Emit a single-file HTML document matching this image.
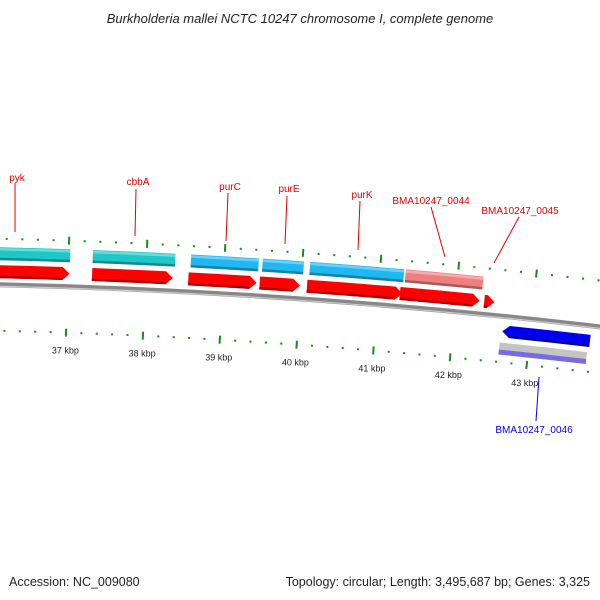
<!DOCTYPE html>
<html><head><meta charset="utf-8"><style>
body{margin:0;background:#fff}
svg{display:block}
text{font-family:"Liberation Sans","DejaVu Sans",sans-serif}
</style></head><body>
<svg id="map" width="600" height="600" viewBox="0 0 600 600">
<text x="300" y="23" text-anchor="middle" font-size="13" font-style="italic" fill="#222">Burkholderia mallei NCTC 10247 chromosome I, complete genome</text>
<text x="9" y="586" font-size="12.5" fill="#222">Accession: NC_009080</text>
<text x="590" y="586" text-anchor="end" font-size="12.5" fill="#222">Topology: circular; Length: 3,495,687 bp; Genes: 3,325</text>
<g id="g"></g>
</svg>
<script>
// data (kbp)
const fwdGenes = [[35.9,37.02],[37.31,38.35],[38.55,39.43],[39.47,39.99],[40.08,41.31],[41.28,42.31],[42.37,42.50]];
const fwdBoxes = [[35.9,37.02],[37.31,38.37],[38.57,39.44],[39.49,40.02],[40.10,41.31],[41.33,42.33]];
const boxColors = ['#1ec8c8','#1ec8c8','#20b8f0','#20b8f0','#20b8f0','#f08080'];
const revGenes = [[42.64,43.78]];
const tickKbp = [36,37,38,39,40,41,42,43,44];
const tickLabels = ['','37 kbp','38 kbp','39 kbp','40 kbp','41 kbp','42 kbp','43 kbp','44 kbp'];

const NS='http://www.w3.org/2000/svg';
const G=document.getElementById('g');
const CX=-150, CY=6713, R0=6384+46, T37=0.03384, K=0.01206;
function th(p){return T37+(p-37)*K;}
function pt(p,r){const t=th(p);return [CX+r*Math.sin(t),CY-r*Math.cos(t)];}
function mk(tag,attrs){const e=document.createElementNS(NS,tag);for(const k in attrs)e.setAttribute(k,attrs[k]);G.appendChild(e);return e;}
function arcPath(a,b,r){const p=pt(a,r),q=pt(b,r);return `M${p[0]},${p[1]} A${r},${r} 0 0 1 ${q[0]},${q[1]}`;}
function band(a,b,r,h,dir){
  const head=0.09;let d;
  const ro=r+h/2,ri=r-h/2;
  if(dir===1){const e=b-head;const p1=pt(a,ro),p2=pt(e,ro),tp=pt(b,r),p3=pt(e,ri),p4=pt(a,ri);
    d=`M${p1[0]},${p1[1]} A${ro},${ro} 0 0 1 ${p2[0]},${p2[1]} L${tp[0]},${tp[1]} L${p3[0]},${p3[1]} A${ri},${ri} 0 0 0 ${p4[0]},${p4[1]} Z`;}
  else if(dir===-1){const s=a+head;const tp=pt(a,r),p1=pt(s,ro),p2=pt(b,ro),p3=pt(b,ri),p4=pt(s,ri);
    d=`M${tp[0]},${tp[1]} L${p1[0]},${p1[1]} A${ro},${ro} 0 0 1 ${p2[0]},${p2[1]} L${p3[0]},${p3[1]} A${ri},${ri} 0 0 0 ${p4[0]},${p4[1]} Z`;}
  else{const p1=pt(a,ro),p2=pt(b,ro),p3=pt(b,ri),p4=pt(a,ri);
    d=`M${p1[0]},${p1[1]} A${ro},${ro} 0 0 1 ${p2[0]},${p2[1]} L${p3[0]},${p3[1]} A${ri},${ri} 0 0 0 ${p4[0]},${p4[1]} Z`;}
  return d;
}
// backbone
let e=mk('path',{d:arcPath(35.5,45,R0),fill:'none',stroke:'#888',"stroke-width":5});


e=mk('path',{d:arcPath(35.5,45,R0-1.5),fill:'none',stroke:'#ccc',"stroke-width":1.2});


// ticks
for(let i=0;i<tickKbp.length-1;i++){
  for(let j=0;j<5;j++){
    const p=tickKbp[i]+j*0.2, major=j===0;
    [R0+46,R0-46].forEach((r,ri)=>{
      const L=major?4:1;const a=pt(p,r-L),b=pt(p,r+L);
      const t=mk('line',{x1:a[0],y1:a[1],x2:b[0],y2:b[1],stroke:'#1a8a1a',"stroke-width":2});
      
      
    });
  }
  const lp=pt(tickKbp[i],R0-64);
  const tx=mk('text',{x:lp[0],y:lp[1]+3,"text-anchor":"middle","font-size":"9",fill:'#222'});
  tx.textContent=tickLabels[i];
  
  
}
// forward boxes
fwdBoxes.forEach((g,i)=>{
  const b=mk('path',{d:band(g[0],g[1],R0+31,13,0),fill:boxColors[i]});
  
  
  const h=mk('path',{d:arcPath(g[0],g[1],R0+35.5),fill:'none',stroke:'rgba(255,255,255,0.35)',"stroke-width":2.5});
  
  
  const s=mk('path',{d:arcPath(g[0],g[1],R0+25.8),fill:'none',stroke:'rgba(0,0,0,0.3)',"stroke-width":2.5});
  
  
});
// forward genes
fwdGenes.forEach(g=>{
  const a=mk('path',{d:band(g[0],g[1],R0+13,13,1),fill:'#ff0000'});
  
  
  const s=mk('path',{d:arcPath(g[0],g[1]-0.09,R0+7.8),fill:'none',stroke:'#b00000',"stroke-width":2.5});
  
  
});
// reverse genes
revGenes.forEach(g=>{
  const a=mk('path',{d:band(g[0],g[1],R0-15,12,-1),fill:'#0000ee'});
  
  
  const s=mk('path',{d:arcPath(g[0]+0.09,g[1],R0-20),fill:'none',stroke:'#0000a0',"stroke-width":2.5});
  
  
  const gr=mk('path',{d:band(g[0]-0.02,g[1]-0.02,R0-30,7,0),fill:'#c4c4c4'});
  
  
  const pu=mk('path',{d:band(g[0]-0.02,g[1]-0.02,R0-36,5,0),fill:'#7a6ae0'});
  
  
});
// labels
const labs=[['pyk',17,181,15,183,15,232,'#e00000'],['cbbA',138,185,136,189,135,236,'#e00000'],['purC',230,190,228,193,226,241,'#e00000'],['purE',289,192,287,196,285,244,'#e00000'],['purK',362,198,360,201,358,250,'#e00000'],['BMA10247_0044',431,204,431,207,445,257,'#e00000'],['BMA10247_0045',520,214,519,217,494,263,'#e00000'],['BMA10247_0046',534,433,536,421,539,377,'#0000ee']];
labs.forEach(l=>{
  const ln=mk('line',{x1:l[3],y1:l[4],x2:l[5],y2:l[6],stroke:l[7],"stroke-width":1});
  
  
  const t=mk('text',{x:l[1],y:l[2],"text-anchor":"middle","font-size":"10",fill:l[7]});
  t.textContent=l[0];
  
  
});
</script>
</body></html>
